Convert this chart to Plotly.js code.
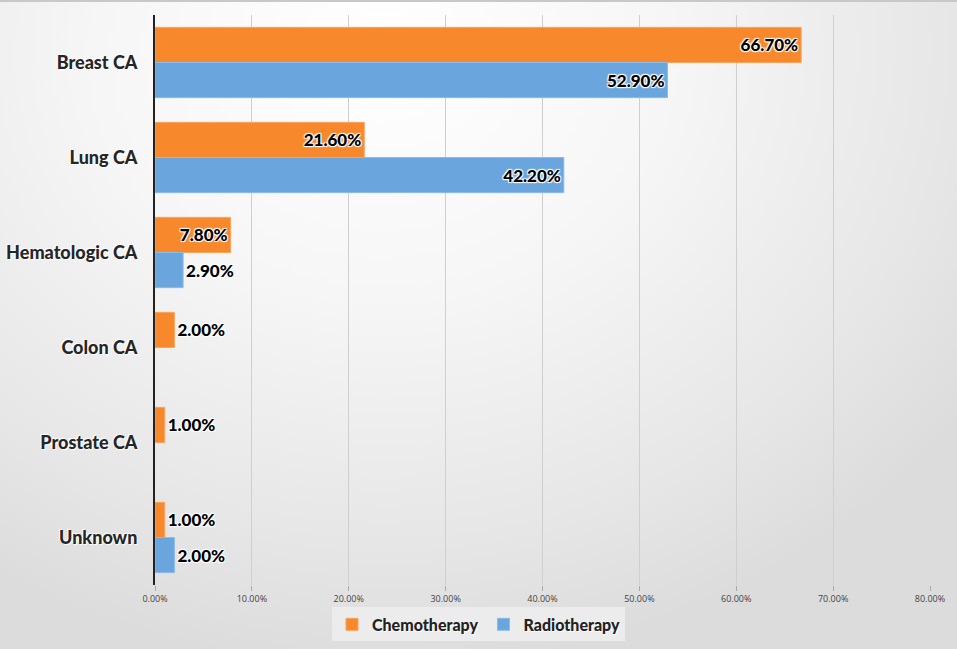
<!DOCTYPE html>
<html>
<head>
<meta charset="utf-8">
<script src="https://cdn.plot.ly/plotly-3.0.1.min.js"></script>
<style>
  html, body { margin: 0; padding: 0; }
  body {
    width: 957px; height: 649px; overflow: hidden;
    background: radial-gradient(ellipse 75% 95% at 40% 8%, #ffffff 0%, #f6f6f6 40%, #e6e6e6 80%, #dcdcdc 100%);
    border-top: 2px solid #c8c8c8; box-sizing: border-box;
  }
  #chart { width: 957px; height: 647px; }
</style>
</head>
<body>
<div id="chart"></div>
<script>
const categories = ["Breast CA", "Lung CA", "Hematologic CA", "Colon CA", "Prostate CA", "Unknown"];
const chemotherapy = [66.7, 21.6, 7.8, 2.0, 1.0, 1.0];
const radiotherapy = [52.9, 42.2, 2.9, null, null, 2.0];
const xTicks = [0, 10, 20, 30, 40, 50, 60, 70, 80];

function positions(vals) {
  return vals.map(v => (v !== null && v >= 5) ? "inside" : "outside");
}

const FAM = "Lato, 'Open Sans', sans-serif";
const glow = "1px 1px 1px #fff, -1px -1px 1px #fff, 1px -1px 1px #fff, -1px 1px 1px #fff";
const labelFont = { family: FAM, size: 17, color: "#000", weight: 900, shadow: glow };

const traces = [
  {
    type: "bar", orientation: "h", name: "Chemotherapy",
    y: categories, x: chemotherapy,
    marker: { color: "#F7882C", line: { color: "#F9A35E", width: 1 } },
    texttemplate: "%{x:.2f}%", textposition: positions(chemotherapy),
    insidetextanchor: "end", constraintext: "none", cliponaxis: false,
    textfont: labelFont, insidetextfont: labelFont, outsidetextfont: labelFont,
    hoverinfo: "x+y"
  },
  {
    type: "bar", orientation: "h", name: "Radiotherapy",
    y: categories, x: radiotherapy,
    marker: { color: "#6AA6DD", line: { color: "#8BBBE6", width: 1 } },
    texttemplate: "%{x:.2f}%", textposition: positions(radiotherapy),
    insidetextanchor: "end", constraintext: "none", cliponaxis: false,
    textfont: labelFont, insidetextfont: labelFont, outsidetextfont: labelFont,
    hoverinfo: "x+y"
  }
];

const layout = {
  width: 957, height: 647,
  paper_bgcolor: "rgba(0,0,0,0)", plot_bgcolor: "rgba(0,0,0,0)",
  margin: { l: 155, r: 27, t: 13, b: 64 },
  barmode: "group", bargap: 0.26, bargroupgap: 0,
  font: { family: FAM, color: "#333" },
  xaxis: {
    range: [0, 80], tickvals: xTicks, ticktext: xTicks.map(v => v.toFixed(2) + "%"),
    showgrid: true, gridcolor: "#cfcfcf", gridwidth: 1,
    zeroline: false, showline: false,
    ticks: "outside", ticklen: 5, tickcolor: "#aaa", tickwidth: 1,
    tickfont: { size: 9, color: "#444", family: "'Open Sans', sans-serif" },
    fixedrange: true
  },
  yaxis: {
    autorange: "reversed", type: "category",
    showline: true, linecolor: "#222", linewidth: 2,
    showgrid: false, zeroline: false, ticks: "", ticklen: 0,
    ticklabelstandoff: 12,
    tickfont: { size: 18, color: "#262626", weight: 900, family: FAM,
      shadow: "1px 1px 1px #fff, -1px -1px 1px #fff" },
    automargin: false, fixedrange: true
  },
  showlegend: true,
  legend: {
    orientation: "h", xref: "container", yref: "container",
    x: 0.5, xanchor: "center", y: 0.038, yanchor: "middle",
    bgcolor: "#ececec", borderwidth: 0,
    font: { size: 16, color: "#222", weight: 900, family: FAM,
      shadow: "1px 1px 1px #fff" },
    itemwidth: 30, tracegroupgap: 0
  }
};

Plotly.newPlot("chart", traces, layout, { displayModeBar: false, staticPlot: true });
</script>
</body>
</html>
